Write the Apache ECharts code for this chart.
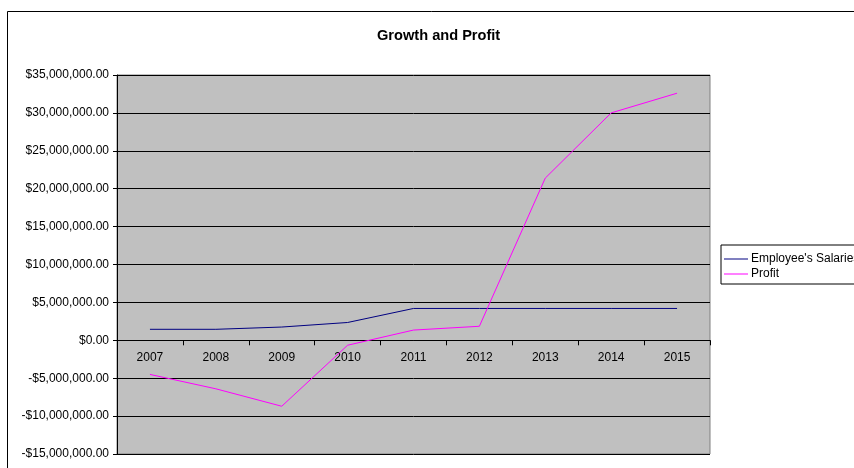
<!DOCTYPE html>
<html><head><meta charset="utf-8">
<script src="https://cdn.jsdelivr.net/npm/echarts@6/dist/echarts.min.js"></script>
<style>html,body{margin:0;padding:0;background:#fff}#c{width:854px;height:468px}</style>
</head><body><div id="c"></div>
<script>
const years = ['2007','2008','2009','2010','2011','2012','2013','2014','2015'];
const salaries = [1450000,1450000,1750000,2350000,4200000,4200000,4200000,4200000,4200000];
const profit = [-4500000,-6400000,-8700000,-650000,1350000,1850000,21400000,30000000,32600000];
const yTicks = {min:-15000000, max:35000000, interval:5000000};

function money(v){
  const s = Math.abs(v).toLocaleString('en-US',{minimumFractionDigits:2,maximumFractionDigits:2});
  return (v<0?'-$':'$')+s;
}
const G = {left:117, top:75, width:593, height:379};
// distance of the zero line above the bottom of the plot
const zeroOffset = G.height * (0 - yTicks.min) / (yTicks.max - yTicks.min);
const chart = echarts.init(document.getElementById('c'));
const font = 'Liberation Sans, Arial, sans-serif';
chart.setOption({
  animation:false,
  backgroundColor:'#fff',
  title:{text:'Growth and Profit', left:372, top:23,
    textStyle:{fontFamily:font,fontSize:14.6,fontWeight:'bold',color:'#000'}},
  graphic:[{type:'rect',shape:{x:7.5,y:11.5,width:900,height:500},
    style:{fill:'none',stroke:'#000',lineWidth:1},silent:true,z:-1}],
  legend:{left:721,top:245,orient:'vertical',itemGap:3,itemWidth:24,itemHeight:1,icon:'rect',
    padding:[8,12,4,3],borderColor:'#000',borderWidth:1,backgroundColor:'#fff',
    textStyle:{fontFamily:font,fontSize:12,color:'#000',padding:[0,0,0,-2]},
    data:["Employee's Salaries",'Profit']},
  grid:Object.assign({show:true,backgroundColor:'#C0C0C0',borderColor:'#808080',borderWidth:1,
    containLabel:false,outerBoundsMode:'none'},G),
  xAxis:{type:'category',data:years,boundaryGap:true,offset:-zeroOffset,
    axisLine:{onZero:false,lineStyle:{color:'#000',width:1}},
    axisTick:{show:true,length:5,lineStyle:{color:'#000'}},
    axisLabel:{fontFamily:font,fontSize:12,color:'#000',margin:11},
    splitLine:{show:false}},
  yAxis:{type:'value',min:yTicks.min,max:yTicks.max,interval:yTicks.interval,
    axisLine:{show:true,lineStyle:{color:'#000'}},
    axisTick:{show:true,length:4,lineStyle:{color:'#000'}},
    axisLabel:{fontFamily:font,fontSize:12,color:'#000',margin:8,formatter:money},
    splitLine:{show:true,lineStyle:{color:'#000',width:1}}},
  series:[
    {name:"Employee's Salaries",type:'line',data:salaries,symbol:'none',color:'#000080',lineStyle:{width:1,color:'#000080'}},
    {name:'Profit',type:'line',data:profit,symbol:'none',color:'#FF00FF',lineStyle:{width:1,color:'#FF00FF'}}
  ]
});
</script></body></html>
